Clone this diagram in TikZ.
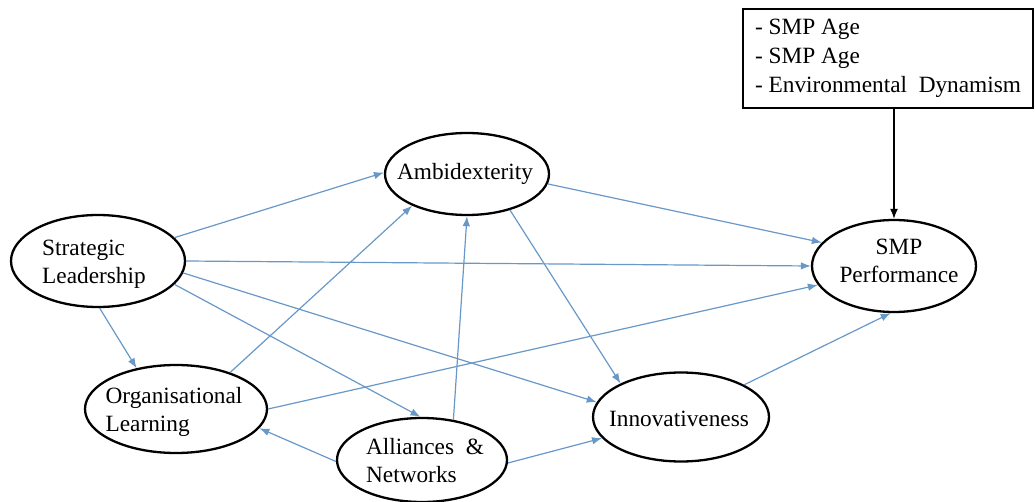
\documentclass[tikz,border=0pt]{standalone}
\usepackage{fontspec}
\setmainfont{Liberation Serif}
\usetikzlibrary{shapes.geometric,arrows.meta}
\definecolor{linkblue}{RGB}{104,152,200}
\begin{document}
\begin{tikzpicture}[x=1pt,y=-1pt,
  oval/.style={ellipse, draw=black, line width=2.3pt, fill=white, inner sep=0pt},
  caption/.style={align=left, inner sep=0pt, font=\fontsize{23.3}{28}\selectfont},
  ctlbox/.style={rectangle, draw=black, line width=2.3pt, fill=white, align=left,
    inner ysep=0pt, minimum width=290pt, minimum height=99pt,
    font=\fontsize{23.3}{29}\selectfont},
  link/.style={draw=linkblue, line width=1.2pt, -{Latex[length=10pt,width=7.5pt]}},
  ctllink/.style={draw=black, line width=1.5pt, -{Latex[length=10pt,width=8pt]}}]
\useasboundingbox (0,0) rectangle (1035,502);

% constructs
\node[oval, minimum width=174pt, minimum height=92pt] (sl) at (98,261) {};
\node[caption] (sl-t) at (94,264) {Strategic\\Leadership};

\node[oval, minimum width=164pt, minimum height=82pt] (ambi) at (467,174) {};
\node[caption] (ambi-t) at (465,174) {Ambidexterity};

\node[oval, minimum width=164pt, minimum height=92pt] (smp) at (894,266) {};
\node[caption, align=center] (smp-t) at (899,261) {SMP\\Performance};

\node[oval, minimum width=182pt, minimum height=88pt] (org) at (176,409) {};
\node[caption] (org-t) at (174,412) {Organisational\\Learning};

\node[oval, minimum width=170pt, minimum height=84pt] (alli) at (422,460) {};
\node[caption] (alli-t) at (425,461) {Alliances\ \ \&\\Networks};

\node[oval, minimum width=176pt, minimum height=89pt] (inno) at (681,417) {};
\node[caption] (inno-t) at (679,419) {Innovativeness};

% control variables
\node[ctlbox] (ctl) at (888,58.5) {- SMP Age\\- SMP Age\\- Environmental\ \ Dynamism};

% hypothesised paths
\draw[link] (sl.17) -- (ambi.179);
\draw[link] (sl.0) -- (smp.180);
\draw[link] (sl.-8) -- (inno.170);
\draw[link] (sl.-17) -- (alli.92);
\draw[link] (sl.-88) -- (org.134);
\draw[link] (org.34) -- (ambi.210);
\draw[link] (org.0) -- (smp.194);
\draw[link] (alli.181) -- (org.-13);
\draw[link] (alli.52) -- (ambi.270);
\draw[link] (alli.-2) -- (inno.195);
\draw[link] (ambi.-7) -- (smp.162);
\draw[link] (ambi.-40) -- (inno.151);
\draw[link] (inno.27) -- (smp.266);
\draw[ctllink] (ctl.south -| smp.north) -- (smp.north);
\end{tikzpicture}
\end{document}
